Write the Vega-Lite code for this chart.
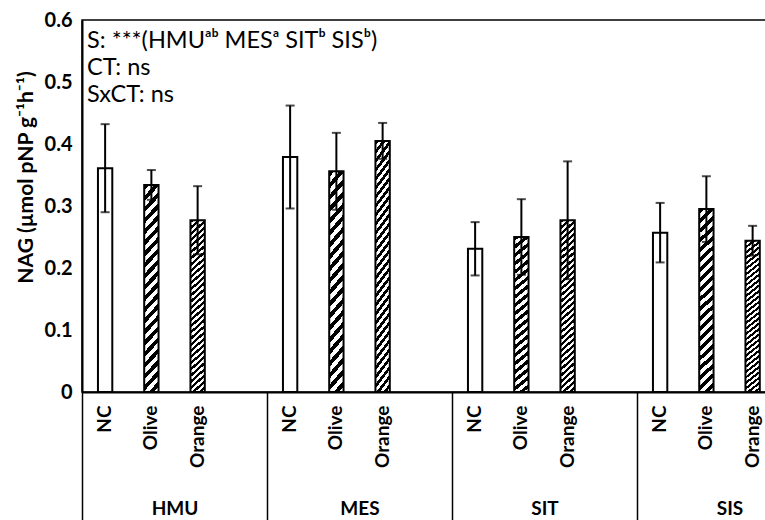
{
  "$schema": "https://vega.github.io/schema/vega-lite/v6.json",
  "width": 740,
  "height": 372,
  "autosize": {"type": "none"},
  "padding": {"left": 82, "top": 20, "right": -57, "bottom": 128},
  "background": "white",
  "config": {
    "font": "Lato",
    "view": {"stroke": "black", "strokeWidth": 1.5}
  },
  "datasets": {
    "bars": [
      {"site": "HMU", "treat": "NC", "slot": "HMU|NC", "mean": 0.361, "se": 0.071},
      {"site": "HMU", "treat": "Olive", "slot": "HMU|Olive", "mean": 0.334, "se": 0.024},
      {"site": "HMU", "treat": "Orange", "slot": "HMU|Orange", "mean": 0.277, "se": 0.055},
      {"site": "MES", "treat": "NC", "slot": "MES|NC", "mean": 0.379, "se": 0.083},
      {"site": "MES", "treat": "Olive", "slot": "MES|Olive", "mean": 0.356, "se": 0.062},
      {"site": "MES", "treat": "Orange", "slot": "MES|Orange", "mean": 0.405, "se": 0.029},
      {"site": "SIT", "treat": "NC", "slot": "SIT|NC", "mean": 0.231, "se": 0.043},
      {"site": "SIT", "treat": "Olive", "slot": "SIT|Olive", "mean": 0.25, "se": 0.061},
      {"site": "SIT", "treat": "Orange", "slot": "SIT|Orange", "mean": 0.277, "se": 0.095},
      {"site": "SIS", "treat": "NC", "slot": "SIS|NC", "mean": 0.257, "se": 0.048},
      {"site": "SIS", "treat": "Olive", "slot": "SIS|Olive", "mean": 0.295, "se": 0.053},
      {"site": "SIS", "treat": "Orange", "slot": "SIS|Orange", "mean": 0.244, "se": 0.024}
    ],
    "sites": [{"site": "HMU"}, {"site": "MES"}, {"site": "SIT"}, {"site": "SIS"}],
    "notes": [{"lines": ["S: ***(HMUᵃᵇ MESᵃ SITᵇ SISᵇ)", "CT: ns", "SxCT: ns"]}]
  },
  "resolve": {"scale": {"x": "independent"}, "axis": {"x": "independent"}},
  "layer": [
    {
      "data": {"name": "bars"},
      "layer": [
        {
          "transform": [{"filter": "datum.treat === 'NC'"}],
          "mark": {"type": "bar", "width": {"band": 0.31}, "fill": "white", "stroke": "black", "strokeWidth": 2},
          "encoding": {
            "x": {"field": "slot", "type": "nominal"},
            "y": {"field": "mean", "type": "quantitative"}
          }
        },
        {
          "transform": [{"filter": "datum.treat === 'Olive'"}],
          "mark": {"type": "bar", "width": {"band": 0.31}, "stroke": "black", "strokeWidth": 2,
            "fill": {"gradient": "linear", "x1": 0, "y1": 0, "x2": 0.08, "y2": 1.07, "stops": [
              {"offset": 0, "color": "black"}, {"offset": 0.025, "color": "black"}, {"offset": 0.025, "color": "white"}, {"offset": 0.05, "color": "white"},
              {"offset": 0.05, "color": "black"}, {"offset": 0.075, "color": "black"}, {"offset": 0.075, "color": "white"}, {"offset": 0.1, "color": "white"},
              {"offset": 0.1, "color": "black"}, {"offset": 0.125, "color": "black"}, {"offset": 0.125, "color": "white"}, {"offset": 0.15, "color": "white"},
              {"offset": 0.15, "color": "black"}, {"offset": 0.175, "color": "black"}, {"offset": 0.175, "color": "white"}, {"offset": 0.2, "color": "white"},
              {"offset": 0.2, "color": "black"}, {"offset": 0.225, "color": "black"}, {"offset": 0.225, "color": "white"}, {"offset": 0.25, "color": "white"},
              {"offset": 0.25, "color": "black"}, {"offset": 0.275, "color": "black"}, {"offset": 0.275, "color": "white"}, {"offset": 0.3, "color": "white"},
              {"offset": 0.3, "color": "black"}, {"offset": 0.325, "color": "black"}, {"offset": 0.325, "color": "white"}, {"offset": 0.35, "color": "white"},
              {"offset": 0.35, "color": "black"}, {"offset": 0.375, "color": "black"}, {"offset": 0.375, "color": "white"}, {"offset": 0.4, "color": "white"},
              {"offset": 0.4, "color": "black"}, {"offset": 0.425, "color": "black"}, {"offset": 0.425, "color": "white"}, {"offset": 0.45, "color": "white"},
              {"offset": 0.45, "color": "black"}, {"offset": 0.475, "color": "black"}, {"offset": 0.475, "color": "white"}, {"offset": 0.5, "color": "white"},
              {"offset": 0.5, "color": "black"}, {"offset": 0.525, "color": "black"}, {"offset": 0.525, "color": "white"}, {"offset": 0.55, "color": "white"},
              {"offset": 0.55, "color": "black"}, {"offset": 0.575, "color": "black"}, {"offset": 0.575, "color": "white"}, {"offset": 0.6, "color": "white"},
              {"offset": 0.6, "color": "black"}, {"offset": 0.625, "color": "black"}, {"offset": 0.625, "color": "white"}, {"offset": 0.65, "color": "white"},
              {"offset": 0.65, "color": "black"}, {"offset": 0.675, "color": "black"}, {"offset": 0.675, "color": "white"}, {"offset": 0.7, "color": "white"},
              {"offset": 0.7, "color": "black"}, {"offset": 0.725, "color": "black"}, {"offset": 0.725, "color": "white"}, {"offset": 0.75, "color": "white"},
              {"offset": 0.75, "color": "black"}, {"offset": 0.775, "color": "black"}, {"offset": 0.775, "color": "white"}, {"offset": 0.8, "color": "white"},
              {"offset": 0.8, "color": "black"}, {"offset": 0.825, "color": "black"}, {"offset": 0.825, "color": "white"}, {"offset": 0.85, "color": "white"},
              {"offset": 0.85, "color": "black"}, {"offset": 0.875, "color": "black"}, {"offset": 0.875, "color": "white"}, {"offset": 0.9, "color": "white"},
              {"offset": 0.9, "color": "black"}, {"offset": 0.925, "color": "black"}, {"offset": 0.925, "color": "white"}, {"offset": 0.95, "color": "white"},
              {"offset": 0.95, "color": "black"}, {"offset": 0.975, "color": "black"}, {"offset": 0.975, "color": "white"}, {"offset": 1, "color": "white"}
            ]}},
          "encoding": {
            "x": {"field": "slot", "type": "nominal"},
            "y": {"field": "mean", "type": "quantitative"}
          }
        },
        {
          "transform": [{"filter": "datum.treat === 'Orange'"}],
          "mark": {"type": "bar", "width": {"band": 0.31}, "stroke": "black", "strokeWidth": 2,
            "fill": {"gradient": "linear", "x1": 0, "y1": 0, "x2": 0.08, "y2": 1.07, "stops": [
              {"offset": 0, "color": "black"}, {"offset": 0.0167, "color": "black"}, {"offset": 0.0167, "color": "white"}, {"offset": 0.0333, "color": "white"},
              {"offset": 0.0333, "color": "black"}, {"offset": 0.05, "color": "black"}, {"offset": 0.05, "color": "white"}, {"offset": 0.0667, "color": "white"},
              {"offset": 0.0667, "color": "black"}, {"offset": 0.0833, "color": "black"}, {"offset": 0.0833, "color": "white"}, {"offset": 0.1, "color": "white"},
              {"offset": 0.1, "color": "black"}, {"offset": 0.1167, "color": "black"}, {"offset": 0.1167, "color": "white"}, {"offset": 0.1333, "color": "white"},
              {"offset": 0.1333, "color": "black"}, {"offset": 0.15, "color": "black"}, {"offset": 0.15, "color": "white"}, {"offset": 0.1667, "color": "white"},
              {"offset": 0.1667, "color": "black"}, {"offset": 0.1833, "color": "black"}, {"offset": 0.1833, "color": "white"}, {"offset": 0.2, "color": "white"},
              {"offset": 0.2, "color": "black"}, {"offset": 0.2167, "color": "black"}, {"offset": 0.2167, "color": "white"}, {"offset": 0.2333, "color": "white"},
              {"offset": 0.2333, "color": "black"}, {"offset": 0.25, "color": "black"}, {"offset": 0.25, "color": "white"}, {"offset": 0.2667, "color": "white"},
              {"offset": 0.2667, "color": "black"}, {"offset": 0.2833, "color": "black"}, {"offset": 0.2833, "color": "white"}, {"offset": 0.3, "color": "white"},
              {"offset": 0.3, "color": "black"}, {"offset": 0.3167, "color": "black"}, {"offset": 0.3167, "color": "white"}, {"offset": 0.3333, "color": "white"},
              {"offset": 0.3333, "color": "black"}, {"offset": 0.35, "color": "black"}, {"offset": 0.35, "color": "white"}, {"offset": 0.3667, "color": "white"},
              {"offset": 0.3667, "color": "black"}, {"offset": 0.3833, "color": "black"}, {"offset": 0.3833, "color": "white"}, {"offset": 0.4, "color": "white"},
              {"offset": 0.4, "color": "black"}, {"offset": 0.4167, "color": "black"}, {"offset": 0.4167, "color": "white"}, {"offset": 0.4333, "color": "white"},
              {"offset": 0.4333, "color": "black"}, {"offset": 0.45, "color": "black"}, {"offset": 0.45, "color": "white"}, {"offset": 0.4667, "color": "white"},
              {"offset": 0.4667, "color": "black"}, {"offset": 0.4833, "color": "black"}, {"offset": 0.4833, "color": "white"}, {"offset": 0.5, "color": "white"},
              {"offset": 0.5, "color": "black"}, {"offset": 0.5167, "color": "black"}, {"offset": 0.5167, "color": "white"}, {"offset": 0.5333, "color": "white"},
              {"offset": 0.5333, "color": "black"}, {"offset": 0.55, "color": "black"}, {"offset": 0.55, "color": "white"}, {"offset": 0.5667, "color": "white"},
              {"offset": 0.5667, "color": "black"}, {"offset": 0.5833, "color": "black"}, {"offset": 0.5833, "color": "white"}, {"offset": 0.6, "color": "white"},
              {"offset": 0.6, "color": "black"}, {"offset": 0.6167, "color": "black"}, {"offset": 0.6167, "color": "white"}, {"offset": 0.6333, "color": "white"},
              {"offset": 0.6333, "color": "black"}, {"offset": 0.65, "color": "black"}, {"offset": 0.65, "color": "white"}, {"offset": 0.6667, "color": "white"},
              {"offset": 0.6667, "color": "black"}, {"offset": 0.6833, "color": "black"}, {"offset": 0.6833, "color": "white"}, {"offset": 0.7, "color": "white"},
              {"offset": 0.7, "color": "black"}, {"offset": 0.7167, "color": "black"}, {"offset": 0.7167, "color": "white"}, {"offset": 0.7333, "color": "white"},
              {"offset": 0.7333, "color": "black"}, {"offset": 0.75, "color": "black"}, {"offset": 0.75, "color": "white"}, {"offset": 0.7667, "color": "white"},
              {"offset": 0.7667, "color": "black"}, {"offset": 0.7833, "color": "black"}, {"offset": 0.7833, "color": "white"}, {"offset": 0.8, "color": "white"},
              {"offset": 0.8, "color": "black"}, {"offset": 0.8167, "color": "black"}, {"offset": 0.8167, "color": "white"}, {"offset": 0.8333, "color": "white"},
              {"offset": 0.8333, "color": "black"}, {"offset": 0.85, "color": "black"}, {"offset": 0.85, "color": "white"}, {"offset": 0.8667, "color": "white"},
              {"offset": 0.8667, "color": "black"}, {"offset": 0.8833, "color": "black"}, {"offset": 0.8833, "color": "white"}, {"offset": 0.9, "color": "white"},
              {"offset": 0.9, "color": "black"}, {"offset": 0.9167, "color": "black"}, {"offset": 0.9167, "color": "white"}, {"offset": 0.9333, "color": "white"},
              {"offset": 0.9333, "color": "black"}, {"offset": 0.95, "color": "black"}, {"offset": 0.95, "color": "white"}, {"offset": 0.9667, "color": "white"},
              {"offset": 0.9667, "color": "black"}, {"offset": 0.9833, "color": "black"}, {"offset": 0.9833, "color": "white"}, {"offset": 1, "color": "white"}
            ]}},
          "encoding": {
            "x": {"field": "slot", "type": "nominal"},
            "y": {"field": "mean", "type": "quantitative"}
          }
        },
        {
          "mark": {"type": "errorbar", "color": "black", "ticks": {"size": 9, "thickness": 2, "color": "black"}, "rule": {"strokeWidth": 2, "color": "black"}},
          "encoding": {
            "x": {"field": "slot", "type": "nominal"},
            "y": {"field": "mean", "type": "quantitative"},
            "yError": {"field": "se"}
          }
        },
        {
          "data": {"name": "notes"},
          "mark": {"type": "text", "align": "left", "baseline": "alphabetic", "dx": 5, "dy": 28, "lineHeight": 27, "fontSize": 23.5, "font": "Lato", "color": "black"},
          "encoding": {
            "x": {"datum": "HMU|NC", "type": "nominal", "bandPosition": 0},
            "y": {"datum": 0.6, "type": "quantitative"},
            "text": {"field": "lines"}
          }
        }
      ],
      "encoding": {
        "x": {
          "field": "slot", "type": "nominal",
          "scale": {
            "domain": ["HMU|NC", "HMU|Olive", "HMU|Orange", "HMU|", "MES|NC", "MES|Olive", "MES|Orange", "MES|", "SIT|NC", "SIT|Olive", "SIT|Orange", "SIT|", "SIS|NC", "SIS|Olive", "SIS|Orange", "SIS|"],
            "paddingInner": 0, "paddingOuter": 0
          },
          "axis": {
            "orient": "bottom", "title": null, "ticks": false, "domain": true, "domainColor": "black", "domainWidth": 2,
            "labelExpr": "split(datum.label, '|')[1]", "labelAngle": 270, "labelAlign": "right", "labelBaseline": "middle",
            "labelPadding": 13, "labelFont": "Lato", "labelFontWeight": "bold", "labelFontSize": 19, "labelColor": "black",
            "labelOverlap": false, "labelBound": false
          }
        },
        "y": {
          "type": "quantitative",
          "scale": {"domain": [0, 0.6], "nice": false, "zero": true},
          "axis": {
            "title": "NAG (µmol pNP g⁻¹h⁻¹)", "titleFont": "Lato", "titleFontWeight": "bold", "titleFontSize": 21, "titleColor": "black",
            "titleX": -50, "titleY": 157, "titleBaseline": "alphabetic", "titleAngle": 270,
            "values": [0, 0.1, 0.2, 0.3, 0.4, 0.5, 0.6],
            "labelExpr": "datum.value == 0 ? '0' : format(datum.value, '.1f')",
            "grid": false, "ticks": false, "domain": true, "domainColor": "black", "domainWidth": 2,
            "labelPadding": 10, "labelFont": "Lato", "labelFontWeight": "bold", "labelFontSize": 20, "labelColor": "black"
          }
        }
      }
    },
    {
      "data": {"name": "sites"},
      "mark": {"type": "point", "opacity": 0},
      "encoding": {
        "x": {
          "field": "site", "type": "nominal",
          "scale": {"domain": ["HMU", "MES", "SIT", "SIS"], "paddingInner": 0, "paddingOuter": 0},
          "axis": {
            "orient": "bottom", "title": null, "domain": false, "ticks": true, "tickBand": "extent", "tickSize": 128,
            "tickColor": "black", "tickWidth": 1.5, "labelAngle": 0, "labelAlign": "center", "labelBaseline": "alphabetic",
            "labelPadding": -6, "labelFont": "Lato", "labelFontWeight": "bold", "labelFontSize": 19, "labelColor": "black"
          }
        }
      }
    }
  ]
}
